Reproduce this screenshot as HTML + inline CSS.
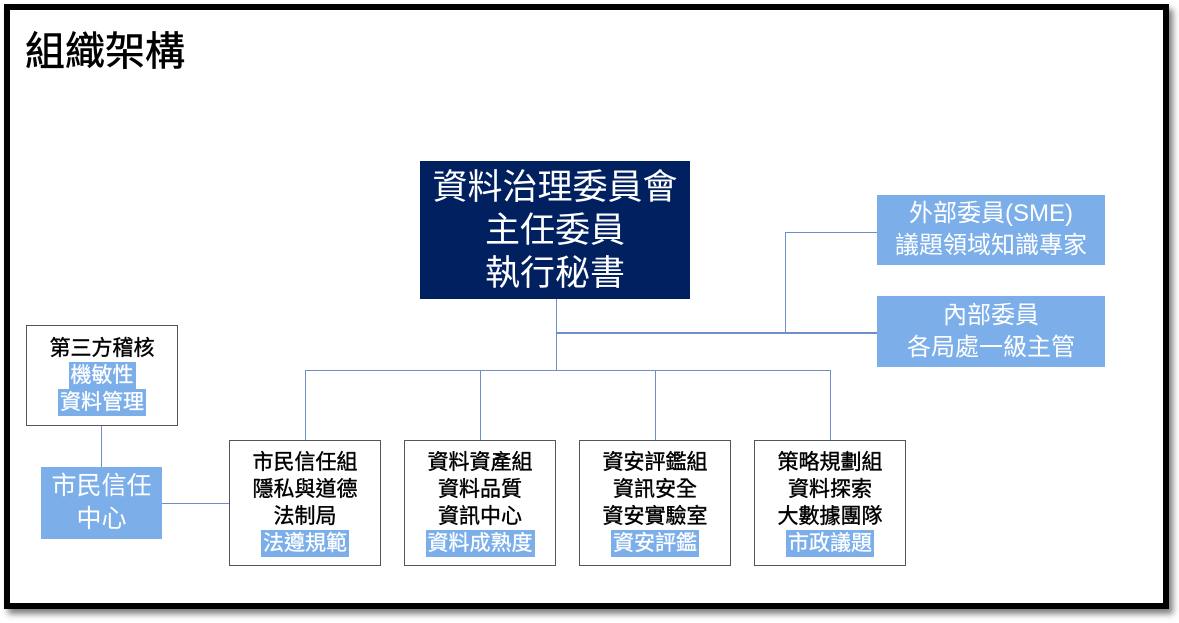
<!DOCTYPE html>
<html><head><meta charset="utf-8"><style>
body{margin:0;width:1179px;height:623px;background:#fff;position:relative;overflow:hidden;font-family:"Liberation Sans","Noto Sans CJK TC",sans-serif}
.a{position:absolute}
.frame{left:4px;top:4px;width:1153px;height:593px;border:6px solid #000;box-shadow:4px 5px 6px rgba(0,0,0,0.5)}
.h{position:absolute;height:1px;background:#6f8fca}
.v{position:absolute;width:1px;background:#6f8fca}
.box{position:absolute;box-sizing:border-box;border:1px solid #555;background:#fff;text-align:center;color:#000;font-size:21px;line-height:27px;display:flex;flex-direction:column;justify-content:center;align-items:center;-webkit-text-stroke:0.4px #000}
.hl{background:#7cafea;color:#fff;padding:0 2px;-webkit-text-stroke:0.3px #fff}
.lb{position:absolute;box-sizing:border-box;background:#7cafea;color:#fff;text-align:center;display:flex;flex-direction:column;justify-content:center;font-size:24px;line-height:32px}
</style></head><body>
<div class="a frame"></div>
<div class="a" style="left:25px;top:27px;font-size:40px;line-height:50px;color:#000;-webkit-text-stroke:0.6px #000">組織架構</div>

<div class="v" style="left:556px;top:299px;height:71px"></div>
<div class="h" style="left:556px;top:332px;width:321px;height:2px"></div>
<div class="v" style="left:785px;top:232px;height:100px"></div>
<div class="h" style="left:785px;top:232px;width:92px"></div>
<div class="h" style="left:305px;top:370px;width:526px"></div>
<div class="v" style="left:305px;top:370px;height:70px"></div>
<div class="v" style="left:480px;top:370px;height:70px"></div>
<div class="v" style="left:655px;top:370px;height:70px"></div>
<div class="v" style="left:830px;top:370px;height:70px"></div>
<div class="v" style="left:101px;top:425px;height:42px"></div>
<div class="h" style="left:162px;top:503px;width:67px"></div>

<div class="lb" style="left:420px;top:161px;width:270px;height:138px;background:#002060;font-size:35px;line-height:43px">資料治理委員會<br>主任委員<br>執行秘書</div>
<div class="lb" style="left:877px;top:195px;width:228px;height:70px">外部委員(SME)<br>議題領域知識專家</div>
<div class="lb" style="left:877px;top:296px;width:228px;height:71px">內部委員<br>各局處一級主管</div>
<div class="lb" style="left:41px;top:467px;width:121px;height:72px;font-size:25px;line-height:33px">市民信任<br>中心</div>

<div class="box" style="left:26px;top:325px;width:152px;height:101px"><div>第三方稽核</div><div class="hl">機敏性</div><div class="hl">資料管理</div></div>
<div class="box" style="left:229px;top:440px;width:152px;height:126px"><div>市民信任組</div><div>隱私與道德</div><div>法制局</div><div class="hl">法遵規範</div></div>
<div class="box" style="left:404px;top:440px;width:152px;height:126px"><div>資料資產組</div><div>資料品質</div><div>資訊中心</div><div class="hl">資料成熟度</div></div>
<div class="box" style="left:579px;top:440px;width:152px;height:126px"><div>資安評鑑組</div><div>資訊安全</div><div>資安實驗室</div><div class="hl">資安評鑑</div></div>
<div class="box" style="left:754px;top:440px;width:152px;height:126px"><div>策略規劃組</div><div>資料探索</div><div>大數據團隊</div><div class="hl">市政議題</div></div>
</body></html>
